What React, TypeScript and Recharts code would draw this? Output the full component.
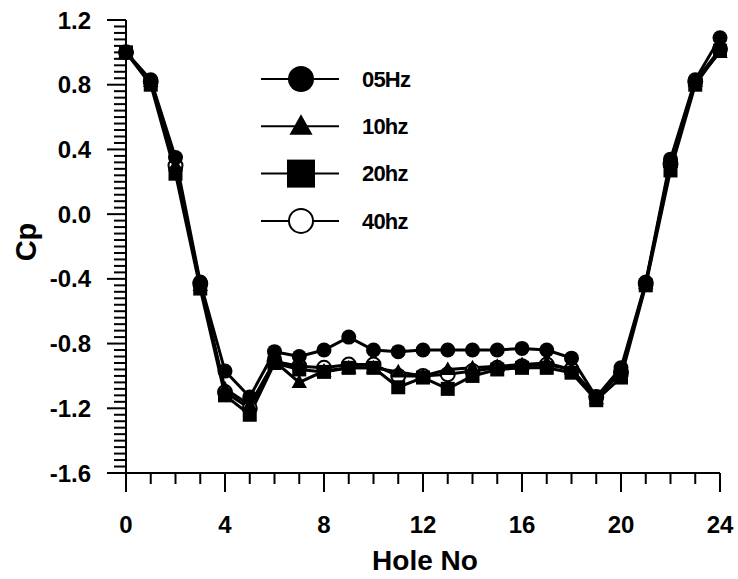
import React from 'react';
import { LineChart, Line, XAxis, YAxis, Legend } from 'recharts';

const holes = [0, 1, 2, 3, 4, 5, 6, 7, 8, 9, 10, 11, 12, 13, 14, 15, 16, 17, 18, 19, 20, 21, 22, 23, 24];
const cp05 = [1.0, 0.83, 0.35, -0.42, -0.97, -1.13, -0.85, -0.88, -0.84, -0.76, -0.84, -0.85, -0.84, -0.84, -0.84, -0.84, -0.83, -0.84, -0.89, -1.13, -0.95, -0.42, 0.34, 0.83, 1.09];
const cp10 = [1.0, 0.82, 0.30, -0.44, -1.08, -1.18, -0.91, -1.04, -0.97, -0.95, -0.95, -0.975, -1.0, -0.96, -0.95, -0.94, -0.93, -0.92, -0.96, -1.14, -0.97, -0.43, 0.32, 0.82, 1.0];
const cp20 = [1.0, 0.80, 0.25, -0.46, -1.12, -1.24, -0.92, -0.96, -0.975, -0.95, -0.95, -1.07, -1.01, -1.08, -1.0, -0.96, -0.95, -0.95, -0.98, -1.15, -1.01, -0.44, 0.27, 0.80, 1.01];
const cp40 = [1.0, 0.82, 0.30, -0.43, -1.1, -1.2, -0.91, -0.94, -0.95, -0.93, -0.93, -1.0, -1.0, -0.99, -0.97, -0.95, -0.94, -0.93, -0.96, -1.13, -0.98, -0.43, 0.31, 0.82, 1.02];

const seriesNames = ['05Hz', '10hz', '20hz', '40hz'];
const seriesKeys = ['cp05', 'cp10', 'cp20', 'cp40'];
const seriesShapes = ['circle', 'triangle', 'square', 'open'];

const xMajorTicks = [0, 4, 8, 12, 16, 20, 24];
const xAllTicks = holes;
const yMajorTicks = [-1.6, -1.2, -0.8, -0.4, 0.0, 0.4, 0.8, 1.2];
const yMinorStep = 0.04;

const yAllTicks: number[] = [];
for (let i = 0; i <= 70; i++) {
  yAllTicks.push(Math.round((-1.6 + i * yMinorStep) * 100) / 100);
}

const data = holes.map((h, i) => ({
  hole: h,
  cp05: cp05[i],
  cp10: cp10[i],
  cp20: cp20[i],
  cp40: cp40[i],
}));

const FONT = '"Liberation Sans", Arial, sans-serif';

function Marker({ shape, cx, cy, s }: { shape: string; cx: number; cy: number; s: number }) {
  if (shape === 'circle') return <circle cx={cx} cy={cy} r={s} fill="#000" />;
  if (shape === 'triangle') {
    const pts = `${cx},${cy - s * 1.15} ${cx - s * 1.1},${cy + s * 0.8} ${cx + s * 1.1},${cy + s * 0.8}`;
    return <polygon points={pts} fill="#000" />;
  }
  if (shape === 'square') return <rect x={cx - s} y={cy - s} width={2 * s} height={2 * s} fill="#000" />;
  return <circle cx={cx} cy={cy} r={s} fill="#fff" stroke="#000" strokeWidth={2} />;
}

const markerSizeChart: Record<string, number> = { circle: 7.5, triangle: 7, square: 7, open: 7 };
const markerSizeLegend: Record<string, number> = { circle: 13, triangle: 10.5, square: 14, open: 12 };

const XTick = (props: any) => {
  const { x, y, payload } = props;
  const v = payload.value;
  const major = xMajorTicks.includes(v);
  return (
    <g>
      <line x1={x} x2={x} y1={y} y2={y + (major ? 19 : 11)} stroke="#000" strokeWidth={2} />
      {major && (
        <text x={x} y={y + 51} dy="0.355em" textAnchor="middle" fontSize={24} fontWeight="bold" fontFamily={FONT} fill="#000">
          {v}
        </text>
      )}
    </g>
  );
};

const YTick = (props: any) => {
  const { x, y, payload } = props;
  const v = payload.value as number;
  const major = yMajorTicks.some((m) => Math.abs(m - v) < 1e-6);
  return (
    <g>
      <line x1={x} x2={x - (major ? 19 : 12)} y1={y} y2={y} stroke="#000" strokeWidth={2} />
      {major && (
        <text x={x - 35} y={y} dy="0.355em" textAnchor="end" fontSize={24} fontWeight="bold" fontFamily={FONT} fill="#000">
          {(Math.abs(v) < 1e-9 ? 0 : v).toFixed(1)}
        </text>
      )}
    </g>
  );
};

const LegendContent = () => (
  <svg width={220} height={190} style={{ overflow: 'visible', display: 'block' }}>
    {seriesNames.map((name, i) => {
      const cy = 19 + i * 47.3;
      return (
        <g key={name}>
          <line x1={6} x2={84} y1={cy} y2={cy} stroke="#000" strokeWidth={2} />
          <Marker shape={seriesShapes[i]} cx={46} cy={cy} s={markerSizeLegend[seriesShapes[i]]} />
          <text x={107} y={cy} dy="0.355em" fontSize={22} fontWeight="bold" fontFamily={FONT} letterSpacing={-0.8} fill="#000">
            {name}
          </text>
        </g>
      );
    })}
  </svg>
);

export default function App() {
  const order = [3, 1, 2, 0];
  return (
    <div style={{ position: 'absolute', left: 0, top: 0, width: 738, height: 579, background: '#fff' }}>
      <LineChart width={738} height={579} data={data} margin={{ top: 20, right: 18, left: 0, bottom: 0 }}>
        <XAxis
          dataKey="hole"
          type="number"
          domain={[0, 24]}
          ticks={xAllTicks}
          interval={0}
          tickSize={0}
          tickMargin={0}
          height={106}
          axisLine={{ stroke: '#000', strokeWidth: 2 }}
          tickLine={false}
          tick={XTick}
          label={(p: any) => (
            <text x={425} y={560} dy="0.355em" textAnchor="middle" fontSize={28} fontWeight="bold" fontFamily={FONT} fill="#000">
              Hole No
            </text>
          )}
        />
        <YAxis
          type="number"
          domain={[-1.6, 1.2]}
          ticks={yAllTicks}
          interval={0}
          tickSize={0}
          tickMargin={0}
          width={126}
          axisLine={{ stroke: '#000', strokeWidth: 2 }}
          tickLine={false}
          tick={YTick}
          label={(p: any) => (
            <text x={0} y={0} dy="0.355em" textAnchor="middle" fontSize={29} fontWeight="bold" fontFamily={FONT} fill="#000" transform="translate(26,242) rotate(-90)">
              Cp
            </text>
          )}
        />
        <Legend
          layout="vertical"
          align="center"
          verticalAlign="middle"
          content={LegendContent}
          wrapperStyle={{ position: 'absolute', left: 255, top: 60, width: 220, height: 190 }}
        />
        {order.map((i) => (
          <Line
            key={seriesKeys[i]}
            dataKey={seriesKeys[i]}
            name={seriesNames[i]}
            stroke="#000"
            strokeWidth={3}
            isAnimationActive={false}
            activeDot={false}
            dot={(p: any) => (
              <Marker key={`${seriesKeys[i]}-${p.index}`} shape={seriesShapes[i]} cx={p.cx} cy={p.cy} s={markerSizeChart[seriesShapes[i]]} />
            )}
          />
        ))}
      </LineChart>
    </div>
  );
}
